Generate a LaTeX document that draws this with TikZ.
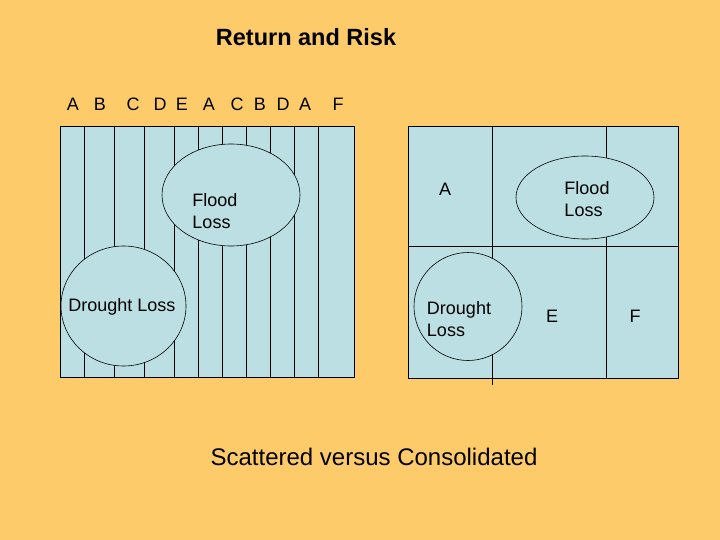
\documentclass[tikz,border=0pt]{standalone}
\usepackage{fontspec}
\setmainfont{Liberation Sans}
\definecolor{bg}{HTML}{FECB6A}
\definecolor{pane}{HTML}{BBDFE2}
\begin{document}
\begin{tikzpicture}[x=1pt,y=-1pt,
  lbl/.style={font=\fontsize{18}{22}\selectfont,inner sep=0pt},
  pan/.style={fill=pane,draw=black,line width=0.6pt},
  ln/.style={draw=black,line width=0.6pt},
  blob/.style={fill=pane,draw=black,line width=0.6pt}]
\fill[bg] (0,0) rectangle (720,540);
\useasboundingbox (0,0) rectangle (720,540);
\node[font=\bfseries\fontsize{23.5}{28}\selectfont] (title) at (306,37) {Return and Risk};
\foreach \x/\t [count=\i] in {73/A,100/B,133/C,160/D,182/E,209/A,237/C,260/B,283/D,305/A,338/F}
  \node[lbl] (top\i) at (\x,104) {\t};
% left panel
\path[pan] (60.3,126.3) rectangle (354.3,377.7);
\foreach \x in {84.7,114.3,144.7,174.7,198.7,222.7,246.7,270.7,294.7,318.7}
  \draw[ln] (\x,126.3) -- (\x,377.7);
\draw[blob] (231,195) ellipse [x radius=69,y radius=51];
\draw[blob] (123.5,306) ellipse [x radius=62.5,y radius=60];
\node[lbl,align=left] (fl1) at (215,211) {Flood\\Loss};
\node[lbl] (dl1) at (122,307) {Drought Loss};
% right panel
\path[pan] (408.3,126.7) rectangle (678.7,378.3);
\draw[ln] (408.3,246.3) -- (678.7,246.3);
\draw[ln] (492.3,126.7) -- (492.3,385);
\draw[ln] (606.7,126.7) -- (606.7,378.3);
\draw[blob] (585,197.5) ellipse [x radius=69,y radius=41.5];
\draw[blob] (468,306.5) ellipse [x radius=54,y radius=54];
\node[lbl] (a2) at (445,189) {A};
\node[lbl,align=left] (fl2) at (587,199) {Flood\\Loss};
\node[lbl,align=left] (dl2) at (459,319) {Drought\\Loss};
\node[lbl] (e2) at (552,316) {E};
\node[lbl] (f2) at (635,316) {F};
\node[font=\fontsize{24}{28}\selectfont] (cap) at (374,457) {Scattered versus Consolidated};
\end{tikzpicture}
\end{document}
